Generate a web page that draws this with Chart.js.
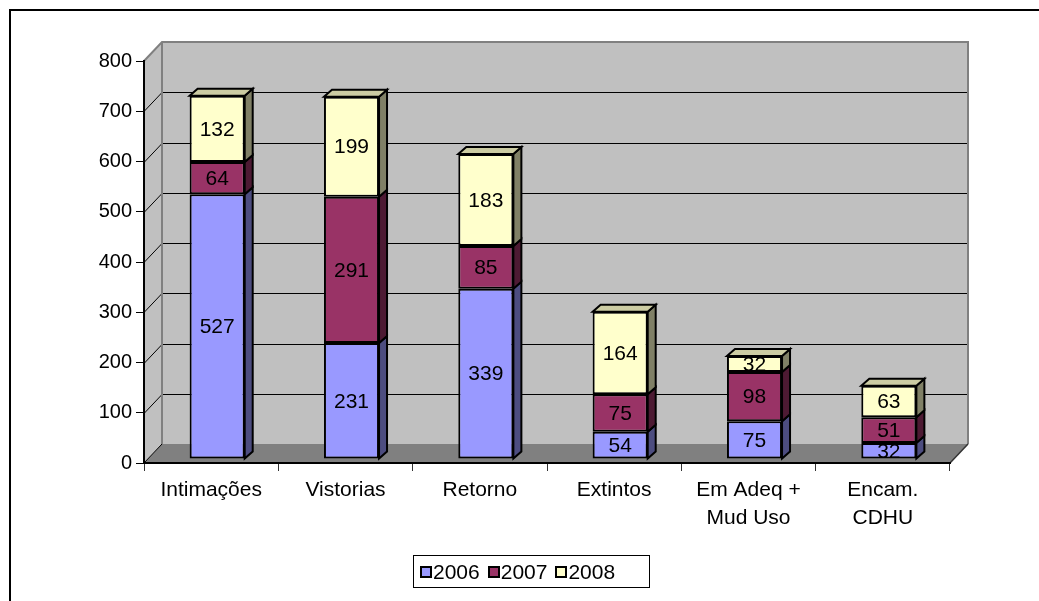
<!DOCTYPE html>
<html>
<head>
<meta charset="utf-8">
<script src="https://cdn.jsdelivr.net/npm/chart.js@4"></script>
<style>
  body { margin: 0; background: #fff; }
  #wrap { position: relative; width: 1039px; height: 601px; }
  #legend {
    position: absolute; left: 413px; top: 555px; width: 237px; height: 33px;
    border: 1px solid #000; display: flex; align-items: center; justify-content: flex-start;
    padding-left: 6px; box-sizing: border-box;
    font-family: "Liberation Sans", Arial, sans-serif; font-size: 21px; color: #000;
  }
  #legend span.item { display: flex; align-items: center; margin-right: 8px; }
  #legend span.box { display: inline-block; width: 8px; height: 8px; border: 2px solid #000; margin-right: 1px; }
</style>
</head>
<body>
<div id="wrap">
  <canvas id="chart" width="1039" height="601"></canvas>
  <div id="legend"></div>
</div>
<script>
const categories = ["Intimações", "Vistorias", "Retorno", "Extintos", ["Em Adeq +", "Mud Uso"], ["Encam.", "CDHU"]];
const years = ["2006", "2007", "2008"];
const values2006 = [527, 231, 339, 54, 75, 32];
const values2007 = [64, 291, 85, 75, 98, 51];
const values2008 = [132, 199, 183, 164, 32, 63];

const frontColors = ["#9999FF", "#993366", "#FFFFCC"];
const sideColors = ["#4D4D80", "#4D1A33", "#808066"];
const topColor = "#CCCCA3";
const font = "Liberation Sans, Arial, sans-serif";

// offsets for the fake 3d look
const wallDX = 18, wallDY = -19;
const barDX = 6, barDY = -4;
const depthDX = 8, depthDY = -7;

function poly(ctx, pts, fill, stroke, lw){
    ctx.beginPath();
    ctx.moveTo(pts[0][0], pts[0][1]);
    for (let i = 1; i < pts.length; i++) ctx.lineTo(pts[i][0], pts[i][1]);
    ctx.closePath();
    if (fill) { ctx.fillStyle = fill; ctx.fill(); }
    if (stroke) { ctx.strokeStyle = stroke; ctx.lineWidth = lw || 1; ctx.stroke(); }
}

function line(ctx, pts, color, lw){
    ctx.beginPath();
    ctx.moveTo(pts[0][0], pts[0][1]);
    for (let i = 1; i < pts.length; i++) ctx.lineTo(pts[i][0], pts[i][1]);
    ctx.strokeStyle = color;
    ctx.lineWidth = lw;
    ctx.stroke();
}

const walls = {
    id: "walls",
    beforeDraw(chart){
        let ctx = chart.ctx;
        let a = chart.chartArea;
        let y = chart.scales.y;
        ctx.save();
        ctx.fillStyle = "#fff";
        ctx.fillRect(0, 0, chart.width, chart.height);

        line(ctx, [[10, 601], [10, 10], [1039, 10]], "#000", 2);

        // back wall, side wall, floor
        poly(ctx, [[a.left + wallDX, a.top + wallDY], [a.right + wallDX, a.top + wallDY], [a.right + wallDX, a.bottom + wallDY], [a.left + wallDX, a.bottom + wallDY]], "#C0C0C0");
        poly(ctx, [[a.left, a.top], [a.left + wallDX, a.top + wallDY], [a.left + wallDX, a.bottom + wallDY], [a.left, a.bottom]], "#C0C0C0");
        poly(ctx, [[a.left, a.bottom], [a.left + wallDX, a.bottom + wallDY], [a.right + wallDX, a.bottom + wallDY], [a.right, a.bottom]], "#808080");

        y.ticks.forEach(t => {
            if (t.value <= 0 || t.value >= 800) return;
            let py = Math.round(y.getPixelForValue(t.value)) + 0.5;
            line(ctx, [[a.left, py], [a.left + wallDX, py + wallDY], [a.right + wallDX, py + wallDY]], "#000", 1);
        });

        line(ctx, [[a.left, a.top], [a.left + wallDX, a.top + wallDY], [a.right + wallDX, a.top + wallDY], [a.right + wallDX, a.bottom + wallDY]], "#808080", 2);
        line(ctx, [[a.left + wallDX, a.top + wallDY], [a.left + wallDX, a.bottom + wallDY]], "#808080", 2);
        line(ctx, [[a.left, a.bottom], [a.left + wallDX, a.bottom + wallDY]], "#000", 1);
        line(ctx, [[a.right, a.bottom], [a.right + wallDX, a.bottom + wallDY]], "#333", 1.5);
        ctx.restore();
    },
    beforeDatasetsDraw(chart){
        chart.ctx.save();
        chart.ctx.translate(barDX, barDY);
    },
    afterDatasetsDraw(chart){
        let ctx = chart.ctx;
        let last = chart.data.datasets.length - 1;
        chart.data.datasets.forEach((ds, i) => {
            let meta = chart.getDatasetMeta(i);
            meta.data.forEach(el => {
                let p = el.getProps(["x", "y", "base", "width"], true);
                let left = p.x - p.width / 2, right = p.x + p.width / 2;
                let top = Math.min(p.y, p.base), bottom = Math.max(p.y, p.base);
                poly(ctx, [[right, top], [right + depthDX, top + depthDY], [right + depthDX, bottom + depthDY], [right, bottom]], sideColors[i], "#000", 2);
                if (i === last) {
                    poly(ctx, [[left, top], [left + depthDX, top + depthDY], [right + depthDX, top + depthDY], [right, top]], topColor, "#000", 2);
                }
            });
        });
        ctx.fillStyle = "#000";
        ctx.font = "21px " + font;
        ctx.textAlign = "center";
        ctx.textBaseline = "middle";
        chart.data.datasets.forEach((ds, i) => {
            let meta = chart.getDatasetMeta(i);
            meta.data.forEach((el, j) => {
                let p = el.getProps(["x", "y", "base"], true);
                ctx.fillText(String(ds.data[j]), p.x, (p.y + p.base) / 2 + 1);
            });
        });
        ctx.restore();
    }
};

let seriesValues = [values2006, values2007, values2008];

new Chart(document.getElementById("chart"), {
    type: "bar",
    data: {
        labels: categories,
        datasets: years.map((yr, i) => ({
            label: yr,
            data: seriesValues[i],
            backgroundColor: frontColors[i],
            borderColor: "#000",
            borderWidth: 2,
            borderSkipped: false,
            barPercentage: 0.41,
            categoryPercentage: 1
        }))
    },
    options: {
        responsive: false,
        animation: false,
        devicePixelRatio: 1,
        layout: { padding: { left: 0, right: 89, top: 61, bottom: 0 } },
        plugins: { legend: { display: false }, tooltip: { enabled: false } },
        scales: {
            x: {
                stacked: true,
                afterFit: s => { s.height = 138; },
                grid: { offset: true, drawOnChartArea: false, color: "#333", tickLength: 8, tickWidth: 1 },
                border: { color: "#000", width: 2 },
                ticks: { color: "#000", padding: 5, maxRotation: 0, autoSkip: false, font: { family: font, size: 21, lineHeight: 1.35 } }
            },
            y: {
                stacked: true,
                min: 0,
                max: 800,
                afterFit: s => { s.width = 144; },
                grid: { drawOnChartArea: false, color: "#000", tickLength: 8 },
                border: { color: "#000", width: 2 },
                ticks: { stepSize: 100, color: "#000", padding: 4, font: { family: font, size: 20 } }
            }
        }
    },
    plugins: [walls]
});

let legend = document.getElementById("legend");
years.forEach((yr, i) => {
    legend.innerHTML += `<span class="item"><span class="box" style="background:${frontColors[i]}"></span>${yr}</span>`;
});
</script>
</body>
</html>
